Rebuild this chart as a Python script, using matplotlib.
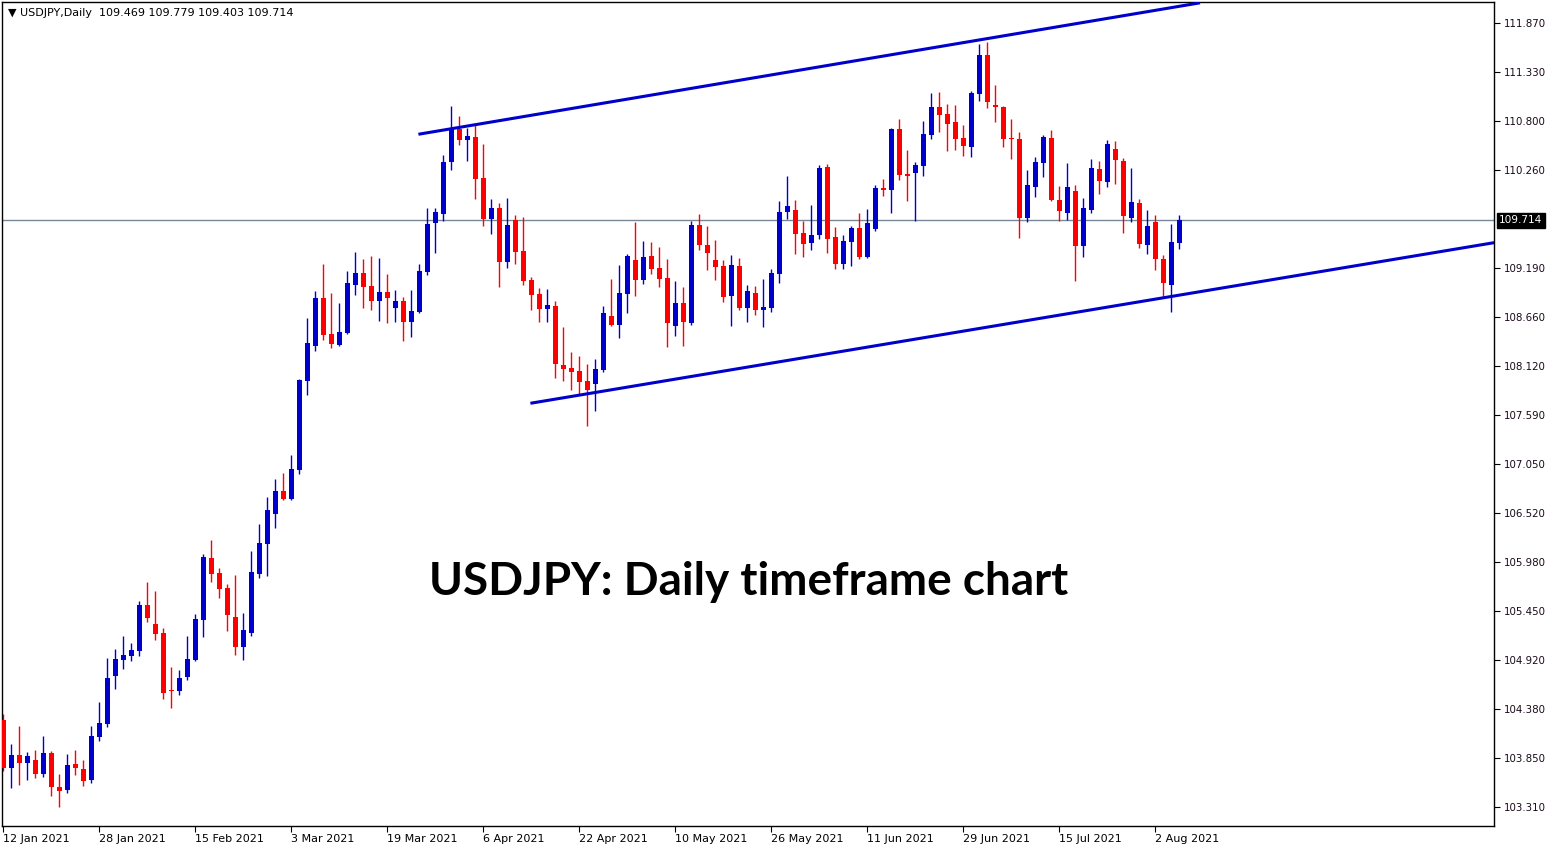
import numpy as np
import matplotlib.pyplot as plt
import matplotlib.transforms as mtransforms

# USDJPY daily candles, 12 Jan 2021 .. 5 Aug 2021 (one entry per trading day)
opens = [104.260, 103.740, 103.878, 103.794, 103.823, 103.674, 103.900, 103.529, 103.499, 103.780,
         103.725, 103.609, 104.078, 104.220, 104.744, 104.919, 104.962, 105.017, 105.516, 105.308,
         105.210, 104.588, 104.580, 104.733, 104.917, 105.352, 106.029, 105.865, 105.701, 105.385,
         105.057, 105.210, 105.854, 106.182, 106.509, 106.760, 106.673, 106.990, 107.961, 108.347,
         108.868, 108.474, 108.358, 108.489, 109.013, 109.140, 108.998, 108.838, 108.933, 108.762,
         108.835, 108.609, 108.718, 109.155, 109.690, 109.788, 110.356, 110.713, 110.596, 110.625,
         110.178, 109.734, 109.850, 109.264, 109.719, 109.381, 109.064, 108.911, 108.751, 108.780,
         108.136, 108.107, 108.071, 107.965, 107.932, 108.085, 108.671, 108.576, 108.915, 109.282,
         109.068, 109.326, 109.195, 109.086, 108.565, 108.813, 108.598, 109.665, 109.446, 109.282,
         109.217, 108.893, 109.217, 108.762, 108.922, 108.740, 108.762, 109.133, 109.810, 109.828,
         109.577, 109.472, 109.559, 110.298, 109.537, 109.242, 109.483, 109.635, 109.319, 109.624,
         110.069, 110.050, 110.713, 110.218, 110.236, 110.312, 110.651, 110.953, 110.877, 110.789,
         110.618, 110.520, 111.099, 111.521, 110.971, 110.953, 110.614, 110.603, 109.745, 110.083,
         110.345, 110.614, 109.938, 109.799, 110.036, 109.439, 109.832, 110.276, 110.138, 110.494,
         110.363, 109.745, 109.905, 109.450, 109.697, 109.297, 109.013, 109.469]
highs = [104.326, 103.998, 104.195, 103.911, 103.932, 104.085, 103.922, 103.670, 103.889, 103.932,
         103.823, 104.195, 104.457, 104.937, 105.035, 105.177, 105.101, 105.559, 105.767, 105.668,
         105.265, 104.839, 104.806, 105.177, 105.417, 106.072, 106.225, 105.920, 105.745, 105.843,
         105.428, 106.105, 106.400, 106.695, 106.891, 106.957, 107.153, 107.983, 108.649, 108.944,
         109.239, 108.922, 108.813, 109.162, 109.370, 109.293, 109.326, 109.304, 109.130, 108.955,
         108.878, 108.955, 109.239, 109.850, 109.850, 110.429, 110.964, 110.855, 110.720, 110.756,
         110.549, 109.948, 109.905, 109.959, 109.774, 109.752, 109.097, 108.977, 108.966, 108.835,
         108.551, 108.278, 108.234, 108.147, 108.202, 108.784, 109.075, 109.231, 109.348, 109.697,
         109.490, 109.479, 109.424, 109.293, 109.053, 108.988, 109.708, 109.785, 109.654, 109.501,
         109.282, 109.337, 109.304, 109.009, 108.998, 109.075, 109.184, 109.927, 110.200, 109.938,
         109.712, 109.883, 110.320, 110.331, 109.643, 109.559, 109.657, 109.796, 109.839, 110.101,
         110.167, 110.724, 110.822, 110.483, 110.352, 110.800, 111.106, 111.117, 110.986, 110.975,
         110.756, 111.128, 111.641, 111.663, 111.193, 110.964, 110.822, 110.680, 110.265, 110.407,
         110.647, 110.702, 110.094, 110.342, 110.101, 109.963, 110.385, 110.363, 110.593, 110.582,
         110.396, 110.287, 109.948, 109.828, 109.774, 109.341, 109.675, 109.779]
lows = [103.707, 103.521, 103.554, 103.609, 103.630, 103.641, 103.434, 103.314, 103.467, 103.663,
        103.543, 103.576, 104.034, 104.187, 104.602, 104.820, 104.908, 104.962, 105.330, 105.137,
        104.493, 104.395, 104.537, 104.700, 104.906, 105.166, 105.767, 105.592, 105.232, 104.970,
        104.915, 105.177, 105.810, 105.832, 106.356, 106.662, 106.662, 106.946, 107.812, 108.293,
        108.413, 108.325, 108.347, 108.478, 108.904, 108.762, 108.740, 108.620, 108.598, 108.609,
        108.402, 108.445, 108.707, 109.122, 109.362, 109.712, 110.269, 110.542, 110.367, 109.952,
        109.657, 109.570, 108.991, 109.199, 109.242, 109.013, 108.740, 108.609, 108.609, 107.998,
        107.965, 107.867, 107.823, 107.474, 107.637, 108.063, 108.565, 108.434, 108.707, 108.893,
        109.024, 109.133, 108.991, 108.336, 108.456, 108.347, 108.576, 109.395, 109.177, 109.068,
        108.828, 108.565, 108.740, 108.609, 108.686, 108.555, 108.718, 109.035, 109.734, 109.352,
        109.319, 109.395, 109.515, 109.363, 109.188, 109.188, 109.221, 109.297, 109.308, 109.603,
        109.985, 109.799, 110.160, 109.930, 109.712, 110.203, 110.607, 110.684, 110.476, 110.487,
        110.422, 110.411, 111.022, 110.946, 110.793, 110.520, 110.389, 109.526, 109.701, 109.974,
        110.192, 109.930, 109.712, 109.723, 109.057, 109.319, 109.799, 110.007, 110.083, 110.116,
        109.581, 109.701, 109.417, 109.352, 109.177, 108.882, 108.718, 109.403]
closes = [103.740, 103.878, 103.794, 103.867, 103.674, 103.900, 103.532, 103.488, 103.769, 103.740,
          103.598, 104.085, 104.227, 104.719, 104.926, 104.970, 105.024, 105.516, 105.377, 105.203,
          104.558, 104.580, 104.719, 104.926, 105.363, 106.040, 105.854, 105.690, 105.406, 105.057,
          105.243, 105.876, 106.192, 106.553, 106.760, 106.673, 107.000, 107.972, 108.376, 108.868,
          108.467, 108.369, 108.496, 109.031, 109.140, 108.991, 108.838, 108.933, 108.871, 108.835,
          108.609, 108.726, 109.162, 109.675, 109.806, 110.352, 110.713, 110.596, 110.636, 110.170,
          109.734, 109.850, 109.264, 109.665, 109.373, 109.057, 108.904, 108.751, 108.791, 108.151,
          108.096, 108.063, 107.954, 107.867, 108.096, 108.707, 108.576, 108.924, 109.326, 109.068,
          109.315, 109.188, 109.079, 108.598, 108.813, 108.609, 109.665, 109.450, 109.362, 109.210,
          108.882, 109.228, 108.762, 108.944, 108.740, 108.773, 109.140, 109.806, 109.872, 109.570,
          109.461, 109.555, 110.287, 109.515, 109.242, 109.490, 109.635, 109.319, 109.686, 110.069,
          110.050, 110.713, 110.214, 110.203, 110.320, 110.658, 110.953, 110.869, 110.771, 110.607,
          110.531, 111.106, 111.521, 111.011, 110.957, 110.607, 110.607, 109.745, 110.101, 110.352,
          110.625, 109.938, 109.821, 110.079, 109.439, 109.850, 110.287, 110.149, 110.549, 110.378,
          109.766, 109.916, 109.461, 109.654, 109.297, 109.035, 109.479, 109.714]

date_labels = ['12 Jan 2021', '28 Jan 2021', '15 Feb 2021', '3 Mar 2021', '19 Mar 2021',
               '6 Apr 2021', '22 Apr 2021', '10 May 2021', '26 May 2021', '11 Jun 2021',
               '29 Jun 2021', '15 Jul 2021', '2 Aug 2021']
date_bars = [0, 12, 24, 36, 48, 60, 72, 84, 96, 108, 120, 132, 144]
price_ticks = [111.870, 111.330, 110.800, 110.260, 109.190, 108.660, 108.120, 107.590,
               107.050, 106.520, 105.980, 105.450, 104.920, 104.380, 103.850, 103.310]
last_price = 109.714

# channel lines (bar index, price)
upper_x = [51.9, 149.6]
upper_y = [110.655, 112.09]
lower_x = [65.9, 186.4]
lower_y = [107.718, 109.472]

BULL = '#0000cd'
BEAR = '#ff0000'

fig = plt.figure(figsize=(15.58, 8.5), dpi=100)
ax = fig.add_axes([2 / 1558, 24 / 850, 1492 / 1558, 824 / 850])

o = np.array(opens)
h = np.array(highs)
l = np.array(lows)
c = np.array(closes)
x = np.arange(len(o))
cols = np.where(c >= o, BULL, BEAR)

ax.vlines(x, l, h, colors=cols, linewidth=1.0, zorder=2)
ax.bar(x, np.maximum(np.abs(c - o), 0.012), bottom=np.minimum(o, c), width=0.63,
       color=cols, linewidth=0, zorder=3)

# current price line
ax.axhline(last_price, color='#778899', linewidth=1.0, zorder=1)

# trend channel
ax.plot(upper_x, upper_y, color=BULL, linewidth=2.2, solid_capstyle='butt', zorder=4)
ax.plot(lower_x, lower_y, color=BULL, linewidth=2.2, solid_capstyle='butt', zorder=4)

ax.set_xlim(-0.15, 186.35)
ax.set_ylim(103.103, 112.099)

ax.yaxis.tick_right()
ax.set_yticks(price_ticks)
ax.set_yticklabels(['%.3f' % v for v in price_ticks])
ax.tick_params(axis='y', direction='out', length=4, width=0.8, labelsize=7.4, pad=3,
               labelcolor='#1a0a1a')
ax.set_xticks(date_bars)
ax.set_xticklabels(date_labels, ha='left')
ax.tick_params(axis='x', direction='out', length=4, width=0.8, labelsize=8.0, pad=2)
for s in ax.spines.values():
    s.set_linewidth(1.0)
    s.set_color('black')

trans = mtransforms.blended_transform_factory(ax.transAxes, ax.transData)
ax.text(1.0035, last_price, '%.3f' % last_price, transform=trans, ha='left', va='center',
        fontsize=7.6, color='white',
        bbox=dict(facecolor='black', edgecolor='black', pad=1.8))

ax.text(0.004, 0.993, '\u25bc USDJPY,Daily  109.469 109.779 109.403 109.714',
        transform=ax.transAxes, ha='left', va='top', fontsize=8.0, color='black')

ax.text(0.5007, 0.296, 'USDJPY: Daily timeframe chart', transform=ax.transAxes,
        ha='center', va='center', fontsize=33, fontweight='bold', family='Lato',
        color='black')

fig.savefig('out.png', dpi=100)
